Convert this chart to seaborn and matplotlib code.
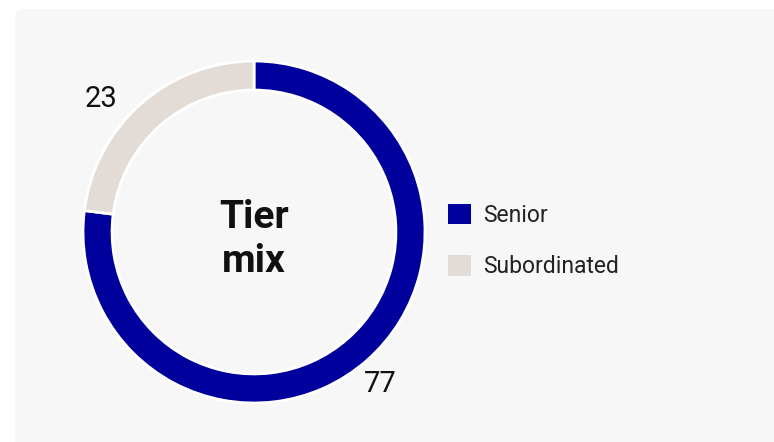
import matplotlib
matplotlib.use("Agg")
import matplotlib.pyplot as plt
import seaborn as sns
import numpy as np
from matplotlib.patches import FancyBboxPatch, Patch
from matplotlib.transforms import IdentityTransform

categories = ["Senior", "Subordinated"]
values = [77, 23]
colors = ["#00009c", "#e3dcd6"]
center_title = "Tier\nmix"

sns.set_theme(style="white")
plt.rcParams["font.family"] = ["Roboto", "DejaVu Sans"]

W, H = 774, 442
fig = plt.figure(figsize=(W / 100, H / 100), dpi=100)
fig.patch.set_facecolor("white")

# panel in pixel coords (origin bottom-left)
panel = FancyBboxPatch((15, -50), W + 50, H - 9 + 50, boxstyle="round,pad=0,rounding_size=8",
                       transform=IdentityTransform(), facecolor="#f7f7f7", edgecolor="none",
                       zorder=-10)
fig.patches.append(panel)

cx, cy, R = 254, 232, 171
lim = 1.3
half = R * lim
ax = fig.add_axes([(cx - half) / W, (H - cy - half) / H, 2 * half / W, 2 * half / H])
ax.axis("off")
ax.patch.set_alpha(0)

wedges, _ = ax.pie(values, colors=colors, startangle=90, counterclock=False,
                   wedgeprops=dict(width=0.17, edgecolor="white", linewidth=2), radius=1.0)
ax.set_xlim(-lim, lim)
ax.set_ylim(-lim, lim)
ax.set_aspect("equal")

# value labels
offsets = {0: (-1.4, 1.15), 1: (7.2, 1.19)}
for i, w in enumerate(wedges):
    mid = (w.theta1 + w.theta2) / 2
    da, r = offsets[i]
    ang = np.deg2rad(mid + da)
    ax.text(r * np.cos(ang), r * np.sin(ang) - 0.01, str(values[i]), ha="center", va="center",
            fontsize=21, fontweight="normal", color="#111111")

ax.text(0, -0.045, center_title, ha="center", va="center", fontsize=28, fontweight="bold",
        color="#111111", linespacing=1.25)

handles = [Patch(facecolor=c, edgecolor="none") for c in colors]
leg = fig.legend(handles, categories, loc="center left", bbox_to_anchor=(448 / W, 1 - 241 / H),
                 frameon=False, fontsize=16.5, handlelength=1.0, handleheight=1.0,
                 handletextpad=0.55, labelspacing=1.25, borderaxespad=0, borderpad=0)
for t in leg.get_texts():
    t.set_color("#222222")

fig.savefig("out.png", dpi=100, facecolor="white")
